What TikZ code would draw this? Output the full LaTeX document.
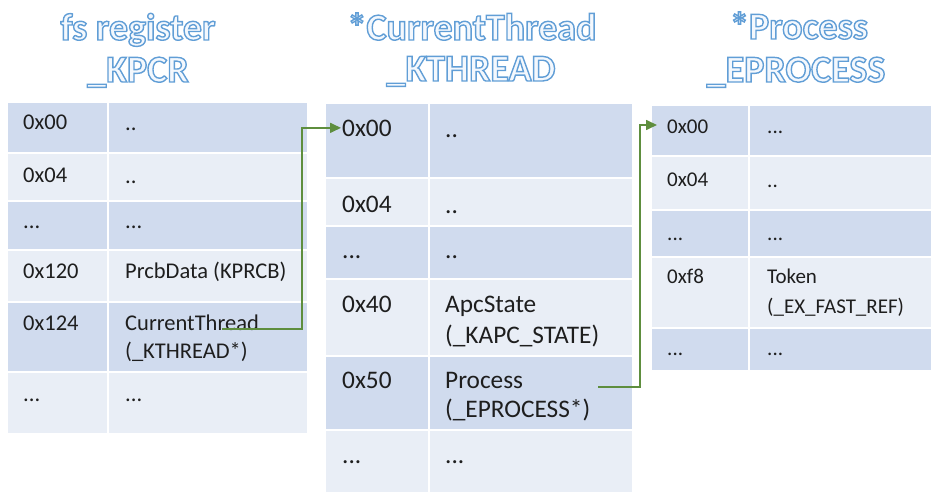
\documentclass[tikz,border=0pt]{standalone}
\usepackage{fontspec}
\setmainfont{Carlito}
\usetikzlibrary{arrows.meta}

\definecolor{rowdark}{HTML}{D0DBEE}
\definecolor{rowlight}{HTML}{E9EEF6}
\definecolor{titlefill}{HTML}{F4F8FD}
\definecolor{ptrgreen}{HTML}{5E8E3E}
\definecolor{celltext}{HTML}{1E1E1E}

% outlined heading text: pale fill, blue stroked rim (PDF text render mode 2)
\newcommand\headtext[1]{%
  {\color{titlefill}%
   \special{pdf:literal 2 Tr 1.4 w 0.38 0.62 0.84 RG}%
   #1%
   \special{pdf:literal 0 Tr}}}

\tikzset{
  heading/.style={anchor=base, inner sep=0pt,
    font=\fontsize{38}{44}\selectfont\bfseries},
  txta/.style={anchor=base west, inner sep=0pt, text=celltext,
    font=\fontsize{22.5}{27}\selectfont},
  txtb/.style={anchor=base west, inner sep=0pt, text=celltext,
    font=\fontsize{25.3}{30}\selectfont},
  txtc/.style={anchor=base west, inner sep=0pt, text=celltext,
    font=\fontsize{21}{26}\selectfont},
  ptr/.style={draw=ptrgreen, line width=1.6pt,
    -{Triangle[length=11pt,width=10pt,fill=ptrgreen]}},
}

\begin{document}
\begin{tikzpicture}[x=1pt, y=-1pt]
\useasboundingbox (0,0) rectangle (931,492);

% ---------- headings ----------
\node[heading] (h1a) at (138,40) {\headtext{fs register}};
\node[heading] (h1b) at (138,82) {\headtext{\_KPCR}};
\node[heading] (h2a) at (472,40) {\headtext{*CurrentThread}};
\node[heading] (h2b) at (471,81) {\headtext{\_KTHREAD}};
\node[heading] (h3a) at (799,39) {\headtext{*Process}};
\node[heading] (h3b) at (796,82) {\headtext{\_EPROCESS}};

% ---------- row backgrounds ----------
% _KPCR
\foreach \ya/\yb/\c in {103/152/rowdark,154/200/rowlight,202/249/rowdark,
                         251/301/rowlight,303/371/rowdark,373/433/rowlight}{
  \fill[\c] (8,\ya) rectangle (107,\yb);
  \fill[\c] (109,\ya) rectangle (307,\yb);
}
% _KTHREAD
\foreach \ya/\yb/\c in {104/177/rowdark,179/225/rowlight,227/278/rowdark,
                         280/355/rowlight,357/429/rowdark,431/492/rowlight}{
  \fill[\c] (326,\ya) rectangle (428,\yb);
  \fill[\c] (430,\ya) rectangle (632,\yb);
}
% _EPROCESS
\foreach \ya/\yb/\c in {106/155/rowdark,157/209/rowlight,211/256/rowdark,
                         258/327/rowlight,329/370/rowdark}{
  \fill[\c] (652,\ya) rectangle (748,\yb);
  \fill[\c] (750,\ya) rectangle (931,\yb);
}

% ---------- _KPCR cells ----------
\node[txta] (a1k) at (23,130) {0x00};
\node[txta] (a1v) at (125,131) {..};
\node[txta] (a2k) at (23,182) {0x04};
\node[txta] (a2v) at (125,183) {..};
\node[txta] (a3k) at (23,228) {...};
\node[txta] (a3v) at (125,228) {...};
\node[txta] (a4k) at (23,278) {0x120};
\node[txta] (a4v) at (125,278) {PrcbData (KPRCB)};
\node[txta] (a5k) at (23,330) {0x124};
\node[txta] (a5v) at (125,330) {CurrentThread};
\node[txta] (a5w) at (125,358) {(\_KTHREAD*)};
\node[txta] (a6k) at (23,401) {...};
\node[txta] (a6v) at (125,401) {...};

% ---------- _KTHREAD cells ----------
\node[txtb] (b1k) at (342,136) {0x00};
\node[txtb] (b1v) at (445,137) {..};
\node[txtb] (b2k) at (342,212) {0x04};
\node[txtb] (b2v) at (445,213) {..};
\node[txtb] (b3k) at (342,258) {...};
\node[txtb] (b3v) at (445,258) {..};
\node[txtb] (b4k) at (342,312) {0x40};
\node[txtb] (b4v) at (445,312) {ApcState};
\node[txtb] (b4w) at (445,343) {(\_KAPC\_STATE)};
\node[txtb] (b5k) at (342,388) {0x50};
\node[txtb] (b5v) at (445,388) {Process};
\node[txtb] (b5w) at (445,417) {(\_EPROCESS*)};
\node[txtb] (b6k) at (342,463) {...};
\node[txtb] (b6v) at (445,463) {...};

% ---------- _EPROCESS cells ----------
\node[txtc] (c1k) at (667,134) {0x00};
\node[txtc] (c1v) at (767,134) {...};
\node[txtc] (c2k) at (667,186) {0x04};
\node[txtc] (c2v) at (767,187) {..};
\node[txtc] (c3k) at (667,240) {...};
\node[txtc] (c3v) at (767,240) {...};
\node[txtc] (c4k) at (667,283) {0xf8};
\node[txtc] (c4v) at (767,283) {Token};
\node[txtc] (c4w) at (767,313) {(\_EX\_FAST\_REF)};
\node[txtc] (c5k) at (667,355) {...};
\node[txtc] (c5v) at (767,355) {...};

% ---------- pointers ----------
\coordinate (ctptr) at (222,329);
\coordinate (procptr) at (598,387);
\coordinate (eptarget) at (657,125);
\draw[ptr] (ctptr) -| ([xshift=-40pt]b1k.west) -- ([xshift=-1pt]b1k.west);
\draw[ptr] (procptr) -| ([xshift=-17pt]eptarget) -- (eptarget);
\end{tikzpicture}
\end{document}
